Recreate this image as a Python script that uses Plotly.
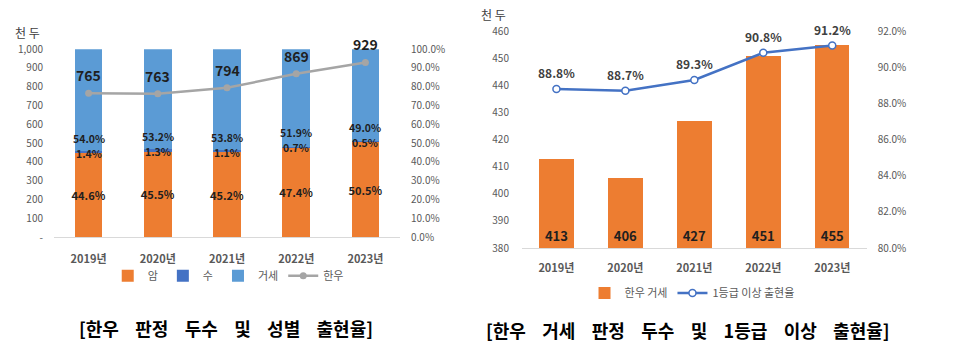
import plotly.graph_objects as go

# ---------------- data ----------------
years = ["2019년", "2020년", "2021년", "2022년", "2023년"]

# left chart: 한우 판정 두수 (천 두) & 성별 출현율 (%)
hanwoo_total = [765, 763, 794, 869, 929]
female_pct = [44.6, 45.5, 45.2, 47.4, 50.5]      # 암
bull_pct = [1.4, 1.3, 1.1, 0.7, 0.5]             # 수
steer_pct = [54.0, 53.2, 53.8, 51.9, 49.0]       # 거세

count_ticks = [0, 100, 200, 300, 400, 500, 600, 700, 800, 900, 1000]
count_ticktext = ["-", "100", "200", "300", "400", "500", "600", "700", "800", "900", "1,000"]
pct_ticks = [0, 10, 20, 30, 40, 50, 60, 70, 80, 90, 100]
pct_ticktext = ["0.0%", "10.0%", "20.0%", "30.0%", "40.0%", "50.0%",
                "60.0%", "70.0%", "80.0%", "90.0%", "100.0%"]

# right chart: 한우 거세 판정 두수 (천 두) & 1등급 이상 출현율 (%)
steer_count = [413, 406, 427, 451, 455]
grade1_pct = [88.8, 88.7, 89.3, 90.8, 91.2]
count_axis_min = 380

# ---------------- styling ----------------
FONT = "Malgun Gothic, Noto Sans CJK KR, sans-serif"
C_ORANGE = "#ED7D31"
C_DBLUE = "#4472C4"
C_LBLUE = "#5B9BD5"
C_GRAY = "#A5A5A5"
TICK_COLOR = "#595959"
LABEL_COLOR = "#1F1F1F"
GAP = " \u00a0\u00a0\u00a0"   # wide word spacing used in the titles

fig = go.Figure()

# ----- left chart bars (percent axis 'y', drawn on the right side) -----
fig.add_trace(go.Bar(
    x=years, y=female_pct, name="암", marker_color=C_ORANGE, width=0.4,
    xaxis="x", yaxis="y",
    text=[f"{v:.1f}%" for v in female_pct], textposition="inside", textangle=0,
    insidetextanchor="middle", constraintext="none",
    textfont=dict(size=11, color=LABEL_COLOR, family=FONT, weight="bold"),
    legend="legend",
))
fig.add_trace(go.Bar(
    x=years, y=bull_pct, name="수", marker_color=C_DBLUE, width=0.4,
    xaxis="x", yaxis="y", legend="legend",
))
fig.add_trace(go.Bar(
    x=years, y=steer_pct, name="거세", marker_color=C_LBLUE, width=0.4,
    xaxis="x", yaxis="y", legend="legend",
))
# ----- left chart line (count axis 'y2', left side) -----
fig.add_trace(go.Scatter(
    x=years, y=hanwoo_total, name="한우", mode="lines+markers",
    line=dict(color=C_GRAY, width=2.5), marker=dict(size=7, color=C_GRAY),
    xaxis="x", yaxis="y2", legend="legend",
))

# ----- right chart bars (count axis 'y3') -----
fig.add_trace(go.Bar(
    x=years, y=[v - count_axis_min for v in steer_count], base=count_axis_min,
    name="한우 거세", marker_color=C_ORANGE, width=0.5,
    xaxis="x2", yaxis="y3",
    text=[str(v) for v in steer_count], textposition="inside", textangle=0,
    insidetextanchor="start", constraintext="none",
    textfont=dict(size=13, color=LABEL_COLOR, family=FONT, weight="bold"),
    legend="legend2",
))
# ----- right chart line (percent axis 'y4') -----
fig.add_trace(go.Scatter(
    x=years, y=grade1_pct, name="1등급 이상 출현율", mode="lines+markers",
    line=dict(color=C_DBLUE, width=2.5),
    marker=dict(size=7, color="white", line=dict(color=C_DBLUE, width=1.5)),
    xaxis="x2", yaxis="y4", legend="legend2",
))

annotations = []
# 수 labels on the 암/수 boundary, 거세 labels just above them
for yr, f, b, s in zip(years, female_pct, bull_pct, steer_pct):
    annotations.append(dict(
        x=yr, y=f, xref="x", yref="y", text=f"{b:.1f}%", showarrow=False,
        xanchor="center", yanchor="middle",
        font=dict(size=10.5, color=LABEL_COLOR, family=FONT, weight="bold"),
    ))
    annotations.append(dict(
        x=yr, y=f, xref="x", yref="y", text=f"{s:.1f}%", showarrow=False,
        xanchor="center", yanchor="middle", yshift=15,
        font=dict(size=10.5, color=LABEL_COLOR, family=FONT, weight="bold"),
    ))
# totals above the 한우 line
for yr, t in zip(years, hanwoo_total):
    annotations.append(dict(
        x=yr, y=t, xref="x", yref="y2", text=f"{t}", showarrow=False, yshift=18,
        xanchor="center", yanchor="middle",
        font=dict(size=14, color=LABEL_COLOR, family=FONT, weight="bold"),
    ))
# 1등급 이상 출현율 labels
for yr, p in zip(years, grade1_pct):
    annotations.append(dict(
        x=yr, y=p, xref="x2", yref="y4", text=f"{p:.1f}%", showarrow=False, yshift=16,
        xanchor="center", yanchor="middle",
        font=dict(size=12, color="#404040", family=FONT, weight="bold"),
    ))
# unit labels
annotations.append(dict(x=0.0286, y=0.906, xref="paper", yref="paper", text="천 두",
                        xanchor="center", yanchor="middle", showarrow=False,
                        font=dict(size=12, color="#404040", family=FONT)))
annotations.append(dict(x=0.512, y=0.957, xref="paper", yref="paper", text="천 두",
                        xanchor="center", yanchor="middle", showarrow=False,
                        font=dict(size=12, color="#404040", family=FONT)))
# titles
annotations.append(dict(x=0.2347, y=0.052, xref="paper", yref="paper",
                        text=GAP.join(["[한우", "판정", "두수", "및", "성별", "출현율]"]),
                        showarrow=False, xanchor="center", yanchor="middle",
                        font=dict(size=18, color="black", family=FONT, weight="bold")))
annotations.append(dict(x=0.7144, y=0.046, xref="paper", yref="paper",
                        text=GAP.join(["[한우", "거세", "판정", "두수", "및", "1등급",
                                       "이상", "출현율]"]),
                        showarrow=False, xanchor="center", yanchor="middle",
                        font=dict(size=18, color="black", family=FONT, weight="bold")))

tickfont = dict(size=10, color=TICK_COLOR, family=FONT)
xtickfont = dict(size=11, color=TICK_COLOR, family=FONT, weight="bold")

fig.update_layout(
    template="none",
    width=963, height=346,
    margin=dict(l=0, r=0, t=0, b=0, pad=0, autoexpand=False),
    paper_bgcolor="white", plot_bgcolor="white",
    barmode="stack",
    font=dict(family=FONT),
    annotations=annotations,
    xaxis=dict(domain=[0.0561, 0.4154], anchor="y", showgrid=False, showline=True,
               linecolor="#D9D9D9", linewidth=1, tickfont=xtickfont, automargin=False,
               ticks="", ticklabelstandoff=12),
    yaxis=dict(domain=[0.315, 0.858], anchor="x", side="right", range=[0, 100],
               tickvals=pct_ticks, ticktext=pct_ticktext, showgrid=False, zeroline=False,
               showline=False, ticks="", automargin=False,
               tickfont=tickfont, ticklabelstandoff=10),
    yaxis2=dict(overlaying="y", anchor="x", side="left", range=[0, 1000],
                tickvals=count_ticks, ticktext=count_ticktext, showgrid=False,
                showline=False, ticks="", automargin=False,
                zeroline=False, tickfont=tickfont, ticklabelstandoff=10),
    xaxis2=dict(domain=[0.542, 0.900], anchor="y3", showgrid=False, showline=True,
                linecolor="#D9D9D9", linewidth=1, tickfont=xtickfont, automargin=False,
                ticks="", ticklabelstandoff=10),
    yaxis3=dict(domain=[0.283, 0.910], anchor="x2", side="left", range=[380, 460],
                dtick=10, showgrid=False, zeroline=False, showline=False, ticks="",
                automargin=False, tickfont=tickfont, ticklabelstandoff=12),
    yaxis4=dict(overlaying="y3", anchor="x2", side="right", range=[80, 92],
                dtick=2, tickformat=".1f", ticksuffix="%", showgrid=False,
                showline=False, ticks="", automargin=False,
                zeroline=False, tickfont=tickfont, ticklabelstandoff=10),
    legend=dict(orientation="h", x=0.237, y=0.203, xanchor="center", yanchor="middle",
                font=dict(size=11, color=TICK_COLOR, family=FONT), traceorder="normal",
                itemwidth=30, bgcolor="rgba(0,0,0,0)", borderwidth=0),
    legend2=dict(orientation="h", x=0.7186, y=0.153, xanchor="center", yanchor="middle",
                 font=dict(size=11, color=TICK_COLOR, family=FONT), traceorder="normal",
                 itemwidth=30, bgcolor="rgba(0,0,0,0)", borderwidth=0),
)

fig.write_html("out.html")
